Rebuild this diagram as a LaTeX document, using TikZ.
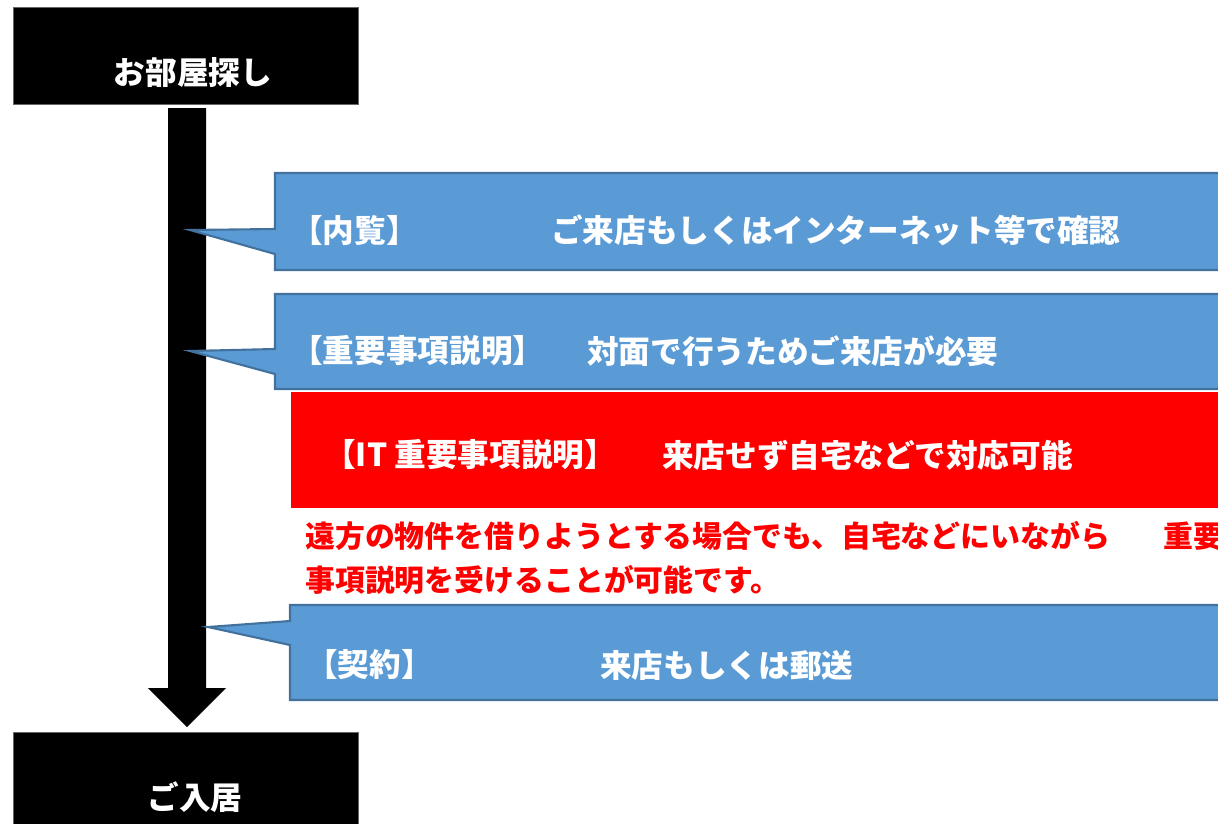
\documentclass[tikz,border=0pt]{standalone}
\usepackage{fontspec}
\newfontfamily\jpfont{Noto Sans CJK JP}
\usepackage{tikz}
\usepackage{xcolor}
\definecolor{calloutblue}{HTML}{5B9BD5}
\definecolor{calloutedge}{HTML}{41719C}
\tikzset{stepbox/.style={fill=black, draw=black!60, line width=0.4pt},
 callout/.style={fill=calloutblue, draw=calloutedge, line width=1.2pt},
 whitetext/.style={text=white, inner sep=0pt, font=\jpfont\bfseries\fontsize{18pt}{20pt}\selectfont},
 notetext/.style={text=red, inner sep=0pt, anchor=west, font=\jpfont\bfseries\fontsize{17pt}{19pt}\selectfont},
 }

\begin{document}
\begin{tikzpicture}[x=0.02cm, y=-0.02cm]
        \useasboundingbox (0,0) rectangle (1218,823);
        \clip (0,0) rectangle (1218,823);
        % start and end
        \draw [stepbox] (13,7) rectangle (358,104);
        \node [whitetext] (search) at (193,73) {お部屋探し};
        \draw [stepbox] (13,732) rectangle (358,830);
        \node [whitetext] (movein) at (195,797) {ご入居};
        \fill (168,108) -- (206,108) -- (206,688) -- (226,688) -- (187,727)
            -- (148,688) -- (168,688) -- cycle;
        % callouts
        \draw [callout] (190,230) -- (275,229) -- (275,173) -- (1230,173) -- (1230,270)
            -- (275,270) -- (275,254) -- cycle;
        \node [whitetext, anchor=west] (viewtag) at (291,230) {【内覧】};
        \node [whitetext, anchor=west] (viewtext) at (551,230) {ご来店もしくはインターネット等で確認};
        \draw [callout] (190,351) -- (275,349) -- (275,294) -- (1230,294) -- (1230,389)
            -- (275,389) -- (275,374) -- cycle;
        \node [whitetext, anchor=west] (explaintag) at (291,351) {【重要事項説明】};
        \node [whitetext, anchor=west] (explaintext) at (587,351) {対面で行うためご来店が必要};
        \fill [red] (291,392) rectangle (1230,508);
        \node [whitetext, anchor=west] (ittag) at (324,455) {【IT 重要事項説明】};
        \node [whitetext, anchor=west] (ittext) at (662,455) {来店せず自宅などで対応可能};
        \node [notetext] (noteone) at (305,536) {遠方の物件を借りようとする場合でも、自宅などにいながら\hspace{1.8em}重要};
        \node [notetext] (notetwo) at (305,580) {事項説明を受けることが可能です。};
        \draw [callout] (208,627) -- (290,621) -- (290,605) -- (1230,605) -- (1230,700)
            -- (290,700) -- (290,645) -- cycle;
        \node [whitetext, anchor=west] (contracttag) at (306,665) {【契約】};
        \node [whitetext, anchor=west] (contracttext) at (600,665) {来店もしくは郵送};
    \end{tikzpicture}
\end{document}
